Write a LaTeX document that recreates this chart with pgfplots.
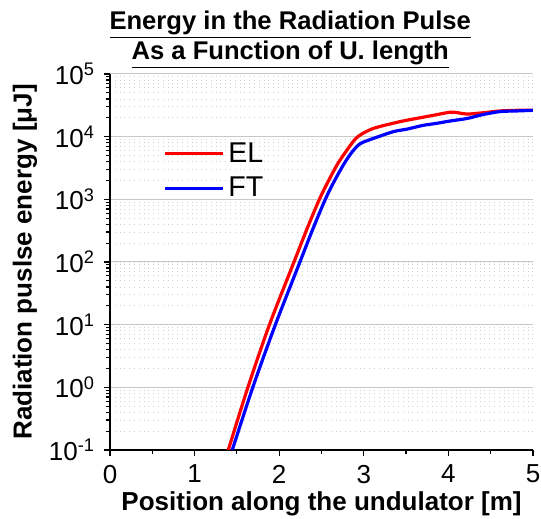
\documentclass[border=0pt]{standalone}
\usepackage{pgfplots}
\pgfplotsset{compat=1.18}
\usepackage{fontspec}
\setmainfont{Liberation Sans}
\begin{document}
\begin{tikzpicture}
\useasboundingbox (-55pt,-34.5pt) rectangle (215.5pt,225pt);
\begin{axis}[
  at={(0,0)}, anchor=south west,
  scale only axis, width=211.5pt, height=188pt,
  ymode=log, xmin=0, xmax=5, ymin=0.1, ymax=1e5,
  axis x line*=bottom, axis y line*=left,
  axis line style={black, line width=0.8pt},
  tick align=outside, tick style={black, line width=0.6pt},
  major tick length=3pt, minor tick length=1.8pt,
  xtick={0,1,2,3,4,5}, xticklabels={0,1,2,3,4,5},
  minor xtick={0.5,1.5,2.5,3.5,4.5},
  ytick={0.1,1,10,100,1000,10000,100000},
  yticklabels={10\textsuperscript{-1},10\textsuperscript{0},10\textsuperscript{1},10\textsuperscript{2},10\textsuperscript{3},10\textsuperscript{4},10\textsuperscript{5}},
  ticklabel style={font=\fontsize{13}{14}\selectfont},
  xticklabel style={yshift=-1pt},
  yticklabel style={xshift=-1pt},
  ymajorgrids, yminorgrids,
  major grid style={draw=black!22, line width=0.5pt},
  minor grid style={draw=black!18, dotted, line width=0.4pt},
  xlabel={\textbf{Position along the undulator [m]}},
  ylabel={\textbf{Radiation puslse energy [μJ]}},
  label style={font=\fontsize{13}{14}\selectfont},
  xlabel style={yshift=3pt},
  ylabel style={yshift=-1pt},
  title={\underline{Energy in the Radiation Pulse}\\\underline{As a Function of U. length}},
  title style={font=\fontsize{12.8}{15}\selectfont\bfseries, align=center, at={(0.426,1)}, anchor=south, yshift=-7pt},
  legend style={draw=none, fill=none, at={(0.12,0.835)}, anchor=north west,
    font=\fontsize{14.3}{16}\selectfont, row sep=2pt, inner sep=1pt},
  legend cell align=left,
  legend image code/.code={\draw[#1] (0pt,0pt) -- (29pt,0pt);},
  clip=true,
]
\addplot[red, line width=1.6pt, smooth, tension=0.5] coordinates {
(1.376,0.08) (1.398,0.1) (1.630,1) (1.885,10) (2.175,100) (2.32,316) (2.475,1000) (2.585,1995) (2.695,3758) (2.83,6918)
(2.93,10000) (3.11,13490) (3.43,17378) (3.62,19498)
(3.82,21878) (4.02,24547) (4.12,23988) (4.22,22909) (4.4,23988) (4.61,25704)
(4.8,26303) (5.0,26303)};
\addlegendentry{EL}
\addplot[blue, line width=1.6pt, smooth, tension=0.5] coordinates {
(1.42,0.08) (1.445,0.1) (1.688,1) (1.955,10) (2.245,100) (2.39,316) (2.545,1000) (2.655,1995) (2.77,3758) (2.87,5888)
(2.96,7762) (3.11,9333) (3.35,12023) (3.51,13183) (3.7,15136)
(3.85,16218) (4.02,17783) (4.22,19498) (4.4,22387) (4.61,25119) (4.8,25704) (5.0,26303)};
\addlegendentry{FT}
\end{axis}
\end{tikzpicture}
\end{document}
